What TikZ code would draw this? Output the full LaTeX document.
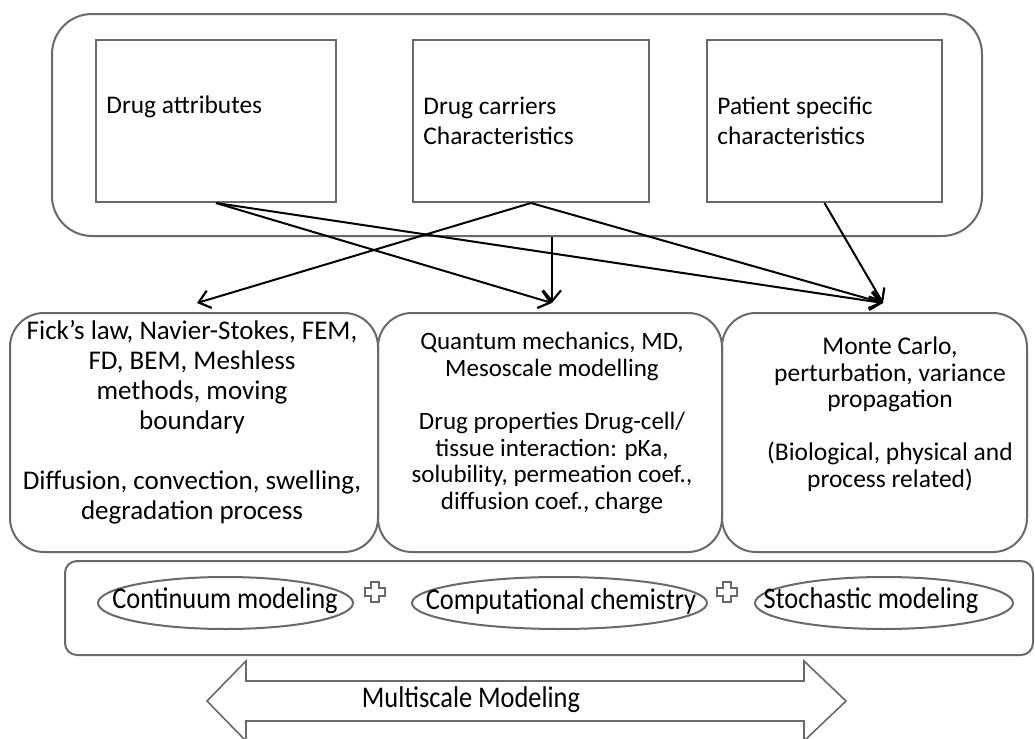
\documentclass[tikz,border=0pt]{standalone}
\usepackage{fontspec}
\setmainfont{Carlito}
\newfontfamily\condfont{Carlito}[FakeStretch=0.88]
\usetikzlibrary{arrows.meta,shapes.geometric,calc}
\definecolor{bx}{RGB}{105,105,105}
\begin{document}
\begin{tikzpicture}[x=0.5pt,y=-0.5pt,
  boxline/.style={draw=bx, line width=1pt},
  outerbox/.style={boxline, rounded corners=20pt, minimum width=465pt, minimum height=111pt, inner sep=0pt},
  topbox/.style={boxline, minimum height=81pt, inner sep=0pt},
  midbox/.style={boxline, rounded corners=17pt, minimum height=119.5pt, inner sep=0pt},
  ovalbox/.style={boxline, ellipse, minimum height=26pt, inner sep=0pt},
  ovaltext/.style={inner sep=0pt, font=\condfont\fontsize{15}{17}\selectfont},
  toptext/.style={anchor=west, align=left, inner sep=0pt, font=\fontsize{12.7}{15}\selectfont},
  arr/.style={line width=1pt, -{Straight Barb[length=5.5pt,width=9pt,line width=1.1pt]}}
]
\useasboundingbox (0,0) rectangle (1035,739);
% top container and boxes
\node[outerbox] (outer) at (517,125) {};
\node[topbox, minimum width=120pt] (b1) at (216,121) {};
\node[topbox, minimum width=118pt] (b2) at (531,121) {};
\node[topbox, minimum width=117.5pt] (b3) at (824.5,121) {};
\node[toptext] (t1) at (106,107) {Drug attributes};
\node[toptext] (t2) at (423,121) {Drug carriers\\Characteristics};
\node[toptext] (t3) at (717,121) {Patient specific\\characteristics};
% middle boxes
\node[midbox, minimum width=184pt] (L) at (194,432.5) {};
\node[midbox, minimum width=172pt] (M) at (550,432.5) {};
\node[midbox, minimum width=152.5pt] (R) at (874.5,432.5) {};
\node[align=center, inner sep=0pt, font=\fontsize{13.5}{15}\selectfont] (Lt) at (192,422)
  {Fick’s law, Navier-Stokes, FEM,\\FD, BEM, Meshless\\methods, moving\\boundary\\[15pt]Diffusion, convection, swelling,\\degradation process};
\node[align=center, inner sep=0pt, font=\fontsize{12.5}{13.35}\selectfont] (Mt) at (552,423)
  {Quantum mechanics, MD,\\Mesoscale modelling\\[13.35pt]Drug properties Drug-cell/\\tissue interaction: pKa,\\solubility, permeation coef.,\\diffusion coef., charge};
\node[align=center, inner sep=0pt, font=\fontsize{12.75}{13.25}\selectfont] (Rt) at (890,414)
  {Monte Carlo,\\perturbation, variance\\propagation\\[13.25pt](Biological, physical and\\process related)};
% arrow tips
\coordinate (tL) at (197,303);
\coordinate (tM) at (552,303);
\coordinate (tR) at (883,303);
\draw[arr] (b1.south) -- (tM);
\draw[arr] (b1.south) -- (tR);
\draw[arr] (b2.south) -- (tL);
\draw[arr] (b2.south) -- (tR);
\draw[arr] (b3.south) -- (tR);
\draw[arr] (outer.south -| tM) -- (tM);
% bottom container
\node[boxline, rounded corners=6pt, minimum width=484pt, minimum height=47pt, inner sep=0pt] (bot) at (549,608) {};
\node[ovalbox, minimum width=127.5pt] (e1) at (225.5,603) {};
\node[ovalbox, minimum width=147.5pt] (e2) at (559.5,603) {};
\node[ovalbox, minimum width=129pt] (e3) at (884,603) {};
\node[ovaltext] (e1t) at (225,601) {Continuum modeling};
\node[ovaltext] (e2t) at (561,601) {Computational chemistry};
\node[ovaltext] (e3t) at (871,601) {Stochastic modeling};
% plus signs
\foreach \cx in {375,727}{
  \draw[draw=bx, line width=0.7pt, fill=white]
    (\cx-4,592-10) -- (\cx+4,592-10) -- (\cx+4,592-4) -- (\cx+10,592-4)
    -- (\cx+10,592+4) -- (\cx+4,592+4) -- (\cx+4,592+10) -- (\cx-4,592+10)
    -- (\cx-4,592+4) -- (\cx-10,592+4) -- (\cx-10,592-4) -- (\cx-4,592-4) -- cycle;
}
% double arrow
\draw[draw=bx, line width=0.8pt]
  (207,701) -- (246,661) -- (246,681) -- (804,681) -- (804,661) -- (846,701)
  -- (804,741) -- (804,721) -- (246,721) -- (246,741) -- cycle;
\node[font=\condfont\fontsize{15}{17}\selectfont, inner sep=0pt] (ms) at (471,700) {Multiscale Modeling};
\end{tikzpicture}
\end{document}
